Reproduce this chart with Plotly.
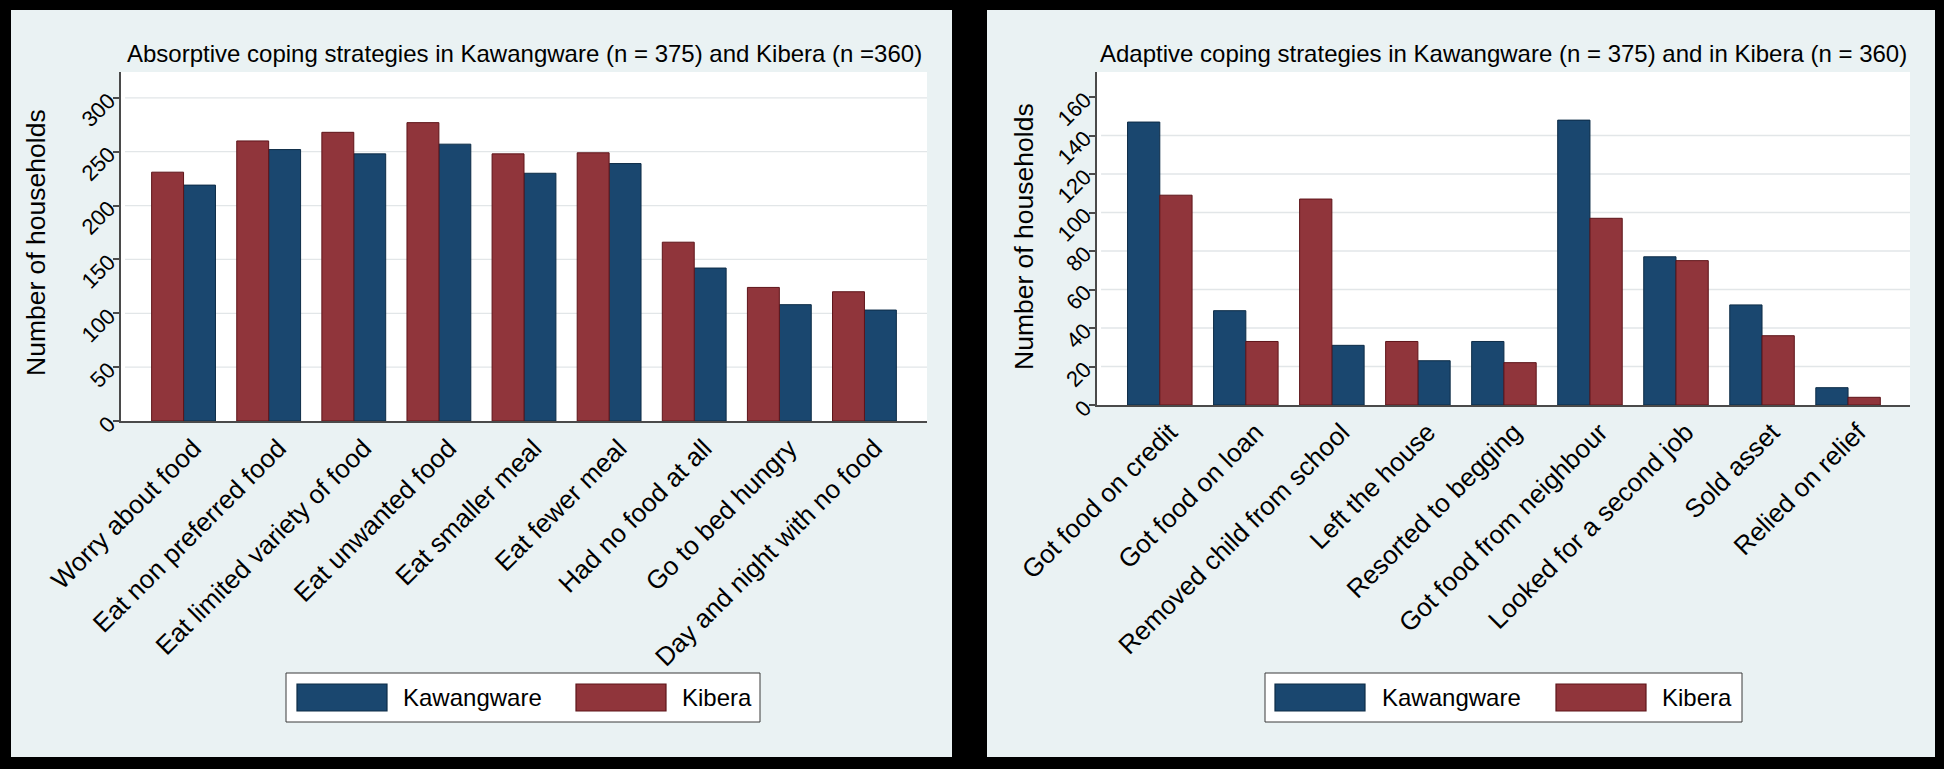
import plotly.graph_objects as go

# ---------------- data ----------------
absorptive_categories = [
    "Worry about food", "Eat non preferred food", "Eat limited variety of food",
    "Eat unwanted food", "Eat smaller meal", "Eat fewer meal",
    "Had no food at all", "Go to bed hungry", "Day and night with no food",
]
absorptive_kawangware = [219, 252, 248, 257, 230, 239, 142, 108, 103]
absorptive_kibera = [231, 260, 268, 277, 248, 249, 166, 124, 120]

adaptive_categories = [
    "Got food on credit", "Got food on loan", "Removed child from school",
    "Left the house", "Resorted to begging", "Got food from neighbour",
    "Looked for a second job", "Sold asset", "Relied on relief",
]
adaptive_kawangware = [147, 49, 31, 23, 33, 148, 77, 52, 9]
adaptive_kibera = [109, 33, 107, 33, 22, 97, 75, 36, 4]

absorptive_ticks = [0, 50, 100, 150, 200, 250, 300]
adaptive_ticks = [0, 20, 40, 60, 80, 100, 120, 140, 160]

series_names = ["Kawangware", "Kibera"]
left_title = "Absorptive coping strategies in Kawangware (n = 375) and Kibera (n =360)"
right_title = "Adaptive coping strategies in Kawangware (n = 375) and in Kibera (n = 360)"
y_title = "Number of households"

# ---------------- style ----------------
W, H = 1944, 769
FONT = "Liberation Sans, Arial, Helvetica, sans-serif"
BLUE, BLUE_EDGE = "#1A476F", "#0D2C47"
RED, RED_EDGE = "#90353B", "#5E1419"
PANEL = "#EAF2F3"
GRID = "#E2E6E8"
AXIS = "#4A4A4A"
BAR_W = 0.375


def px(x):
    return x / W


def py(y):
    return 1 - y / H


def offsets(a, b):
    # larger value of each pair sits in the left slot
    oa = [-BAR_W if va >= vb else 0.0 for va, vb in zip(a, b)]
    ob = [0.0 if va >= vb else -BAR_W for va, vb in zip(a, b)]
    return oa, ob


fig = go.Figure()

panels = [
    dict(cats=absorptive_categories, kaw=absorptive_kawangware, kib=absorptive_kibera,
         xa="x", ya="y"),
    dict(cats=adaptive_categories, kaw=adaptive_kawangware, kib=adaptive_kibera,
         xa="x2", ya="y2"),
]
for p in panels:
    ok, oi = offsets(p["kaw"], p["kib"])
    fig.add_trace(go.Bar(
        x=p["cats"], y=p["kaw"], name=series_names[0], xaxis=p["xa"], yaxis=p["ya"],
        width=BAR_W, offset=ok, showlegend=False,
        marker=dict(color=BLUE, line=dict(color=BLUE_EDGE, width=1)),
    ))
    fig.add_trace(go.Bar(
        x=p["cats"], y=p["kib"], name=series_names[1], xaxis=p["xa"], yaxis=p["ya"],
        width=BAR_W, offset=oi, showlegend=False,
        marker=dict(color=RED, line=dict(color=RED_EDGE, width=1)),
    ))

shapes = []
annotations = []

# panel backgrounds
for x0, x1 in [(11, 952), (987, 1935)]:
    shapes.append(dict(type="rect", xref="paper", yref="paper", layer="below",
                       x0=px(x0), x1=px(x1), y0=py(757), y1=py(10),
                       fillcolor=PANEL, line=dict(width=0)))

# white plot areas and gridlines
for xa, ya, grid in [("x", "y", absorptive_ticks[1:]), ("x2", "y2", adaptive_ticks[1:-1])]:
    shapes.append(dict(type="rect", xref=f"{xa} domain", yref=f"{ya} domain", layer="below",
                       x0=0, x1=1, y0=0, y1=1, fillcolor="white", line=dict(width=0)))
    for g in grid:
        shapes.append(dict(type="line", xref=f"{xa} domain", yref=ya, layer="below",
                           x0=0.005, x1=1, y0=g, y1=g, line=dict(color=GRID, width=1.3)))

# titles
for cx, t in [(524, left_title), (1503.5, right_title)]:
    annotations.append(dict(text=t, x=px(cx), y=py(53), xref="paper", yref="paper",
                            xanchor="center", yanchor="middle", showarrow=False,
                            font=dict(family=FONT, size=24, color="black")))
# y titles
for cx, cy in [(36, 243), (1024, 237)]:
    annotations.append(dict(text=y_title, x=px(cx), y=py(cy), xref="paper", yref="paper",
                            xanchor="center", yanchor="middle", showarrow=False, textangle=-90,
                            font=dict(family=FONT, size=26.5, color="black")))

# legends
for bx0, bx1, s1, t1, s2, t2 in [(286, 760, 297, 401, 576, 680),
                                 (1265, 1742, 1275, 1380, 1556, 1660)]:
    shapes.append(dict(type="rect", xref="paper", yref="paper",
                       x0=px(bx0), x1=px(bx1), y0=py(722), y1=py(673),
                       fillcolor="white", line=dict(color="#3A3A3A", width=1)))
    for sx, tx, col, edge, name in [(s1, t1, BLUE, BLUE_EDGE, series_names[0]),
                                    (s2, t2, RED, RED_EDGE, series_names[1])]:
        shapes.append(dict(type="rect", xref="paper", yref="paper",
                           x0=px(sx), x1=px(sx + 90), y0=py(711), y1=py(684),
                           fillcolor=col, line=dict(color=edge, width=1.2)))
        annotations.append(dict(text=name, x=px(tx), y=py(697.5), xref="paper", yref="paper",
                                xanchor="left", yanchor="middle", showarrow=False,
                                font=dict(family=FONT, size=24, color="black")))

axis_common = dict(showline=True, linecolor=AXIS, linewidth=1.5, zeroline=False,
                   showgrid=False, automargin=False)
xcommon = dict(axis_common, type="category", ticks="", tickangle=-45, ticklabelshift=10,
               tickfont=dict(family=FONT, size=26, color="black"), range=[-0.735, 8.735])
ycommon = dict(axis_common, ticks="outside", ticklen=6, tickwidth=1.5, tickcolor=AXIS,
               tickangle=-45, tickfont=dict(family=FONT, size=22, color="black"))

fig.update_layout(
    width=W, height=H,
    margin=dict(l=0, r=0, t=0, b=0, pad=0, autoexpand=False),
    paper_bgcolor="black",
    plot_bgcolor="white",
    barmode="overlay",
    showlegend=False,
    font=dict(family=FONT, color="black"),
    xaxis=dict(xcommon, domain=[px(121), px(927)], anchor="y"),
    yaxis=dict(ycommon, domain=[py(421), py(72)], anchor="x", range=[0, 324],
               tickvals=absorptive_ticks),
    xaxis2=dict(xcommon, domain=[px(1097), px(1910)], anchor="y2", range=[-0.73, 8.72]),
    yaxis2=dict(ycommon, domain=[py(405), py(72)], anchor="x2", range=[0, 173],
                tickvals=adaptive_ticks),
    shapes=shapes,
    annotations=annotations,
)

fig.write_html(
    "out.html",
    config={"displayModeBar": False},
    post_script="document.body.style.margin='0';document.body.style.background='black';",
)
